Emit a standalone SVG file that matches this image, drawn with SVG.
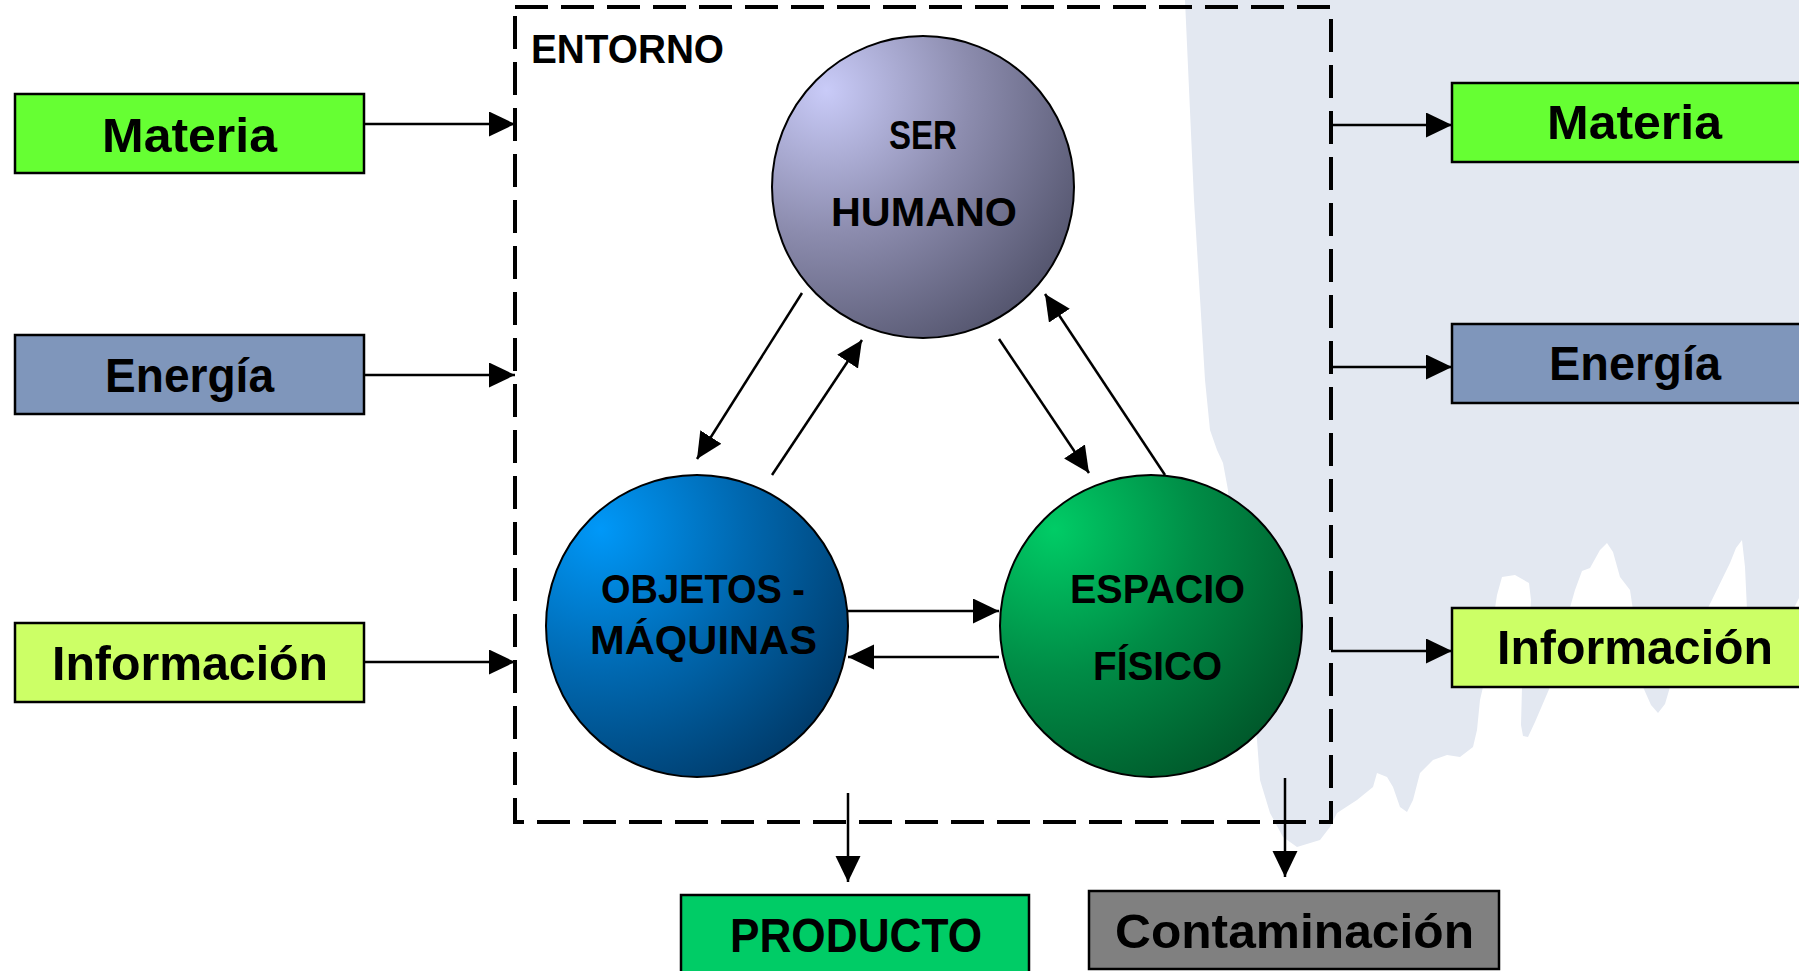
<svg xmlns="http://www.w3.org/2000/svg" width="1799" height="971" viewBox="0 0 1799 971">
<style>
.box{stroke:#000;stroke-width:2.5}
.lbl{font-family:"Liberation Sans",Arial,sans-serif;font-weight:bold;font-size:48px;fill:#000;text-anchor:middle}
.clbl{font-family:"Liberation Sans",Arial,sans-serif;font-weight:bold;font-size:41px;fill:#000;text-anchor:middle}
.circ{stroke:#000;stroke-width:2}
.conn{stroke:#000;stroke-width:2.5;fill:none;marker-end:url(#ah)}
</style>
<defs>
<marker id="ah" markerUnits="userSpaceOnUse" markerWidth="27" markerHeight="26" refX="26" refY="12.5" orient="auto">
<path d="M0,0 L26,12.5 L0,25 Z" fill="#000"/>
</marker>
<radialGradient id="gSer" cx="0.18" cy="0.18" r="0.95">
<stop offset="0" stop-color="#C9CBF8"/>
<stop offset="0.5" stop-color="#8C8CAE"/>
<stop offset="1" stop-color="#55566F"/>
</radialGradient>
<radialGradient id="gObj" cx="0.18" cy="0.18" r="0.95">
<stop offset="0" stop-color="#0098F8"/>
<stop offset="0.5" stop-color="#0068B0"/>
<stop offset="1" stop-color="#003C6C"/>
</radialGradient>
<radialGradient id="gEsp" cx="0.18" cy="0.18" r="0.95">
<stop offset="0" stop-color="#00CC66"/>
<stop offset="0.5" stop-color="#008C46"/>
<stop offset="1" stop-color="#00592B"/>
</radialGradient>
</defs>
<rect x="0" y="0" width="1799" height="971" fill="#FFFFFF"/>
<path id="backdrop" fill="#E3E8F1" d="M1185,0 L1799,0 L1799,598 L1792,612 L1750,640 L1747,610 L1745,567 L1742,540 L1736,548 L1730,563 L1707,610 L1687,650 L1670,687 L1665,704 L1658,713 L1651,705 L1643,687 L1633,610 L1630,590 L1620,577 L1613,552 L1607,543 L1600,550 L1590,568 L1582,571 L1575,590 L1555,660 L1550,687 L1535,722 L1528,737 L1523,736 L1521,725 L1522,687 L1528,650 L1531,600 L1529,583 L1515,575 L1502,577 L1497,595 L1483,687 L1480,700 L1477,730 L1473,747 L1460,757 L1447,755 L1433,760 L1420,773 L1413,800 L1407,812 L1400,807 L1393,787 L1387,777 L1377,773 L1373,787 L1357,800 L1337,813 L1330,827 L1320,840 L1297,847 L1283,837 L1270,813 L1260,780 L1257,740 L1245,650 L1232,560 L1228,490 L1223,463 L1217,450 L1210,430 L1205,380 L1194,200 Z"/>
<g id="entorno">
<rect x="515" y="7" width="816" height="815" fill="none" stroke="#000" stroke-width="4" stroke-dasharray="33 13"/>
<text x="531" y="63" class="clbl" style="text-anchor:start" textLength="193" lengthAdjust="spacingAndGlyphs">ENTORNO</text>
</g>
<g id="ser-humano">
<circle cx="923" cy="187" r="151" fill="url(#gSer)" class="circ"/>
<text x="923" y="149" class="clbl" textLength="68" lengthAdjust="spacingAndGlyphs">SER</text>
<text x="924" y="226" class="clbl" textLength="186" lengthAdjust="spacingAndGlyphs">HUMANO</text>
</g>
<g id="objetos-maquinas">
<circle cx="697" cy="626" r="151" fill="url(#gObj)" class="circ"/>
<text x="703" y="603" class="clbl" textLength="204" lengthAdjust="spacingAndGlyphs">OBJETOS -</text>
<text x="703.5" y="654" class="clbl" textLength="227" lengthAdjust="spacingAndGlyphs">MÁQUINAS</text>
</g>
<g id="espacio-fisico">
<circle cx="1151" cy="626" r="151" fill="url(#gEsp)" class="circ"/>
<text x="1157.5" y="603" class="clbl" textLength="175" lengthAdjust="spacingAndGlyphs">ESPACIO</text>
<text x="1157.5" y="680" class="clbl" textLength="129" lengthAdjust="spacingAndGlyphs">FÍSICO</text>
</g>
<g id="in-materia">
<rect x="15" y="94" width="349" height="79" fill="#66FF33" class="box"/>
<text x="189.5" y="152" class="lbl" textLength="175" lengthAdjust="spacingAndGlyphs">Materia</text>
</g>
<g id="in-energia">
<rect x="15" y="335" width="349" height="79" fill="#7F96BB" class="box"/>
<text x="189.5" y="392" class="lbl" textLength="169" lengthAdjust="spacingAndGlyphs">Energía</text>
</g>
<g id="in-informacion">
<rect x="15" y="623" width="349" height="79" fill="#CCFF66" class="box"/>
<text x="190" y="680" class="lbl" textLength="276" lengthAdjust="spacingAndGlyphs">Información</text>
</g>
<g id="out-materia">
<rect x="1452" y="83" width="360" height="79" fill="#66FF33" class="box"/>
<text x="1634.5" y="139" class="lbl" textLength="175" lengthAdjust="spacingAndGlyphs">Materia</text>
</g>
<g id="out-energia">
<rect x="1452" y="324" width="360" height="79" fill="#7F96BB" class="box"/>
<text x="1635" y="380" class="lbl" textLength="172" lengthAdjust="spacingAndGlyphs">Energía</text>
</g>
<g id="out-informacion">
<rect x="1452" y="608" width="360" height="79" fill="#CCFF66" class="box"/>
<text x="1635" y="664" class="lbl" textLength="276" lengthAdjust="spacingAndGlyphs">Información</text>
</g>
<g id="producto">
<rect x="681" y="895" width="348" height="90" fill="#00CC66" class="box"/>
<text x="856" y="952" class="lbl" textLength="252" lengthAdjust="spacingAndGlyphs">PRODUCTO</text>
</g>
<g id="contaminacion">
<rect x="1089" y="891" width="410" height="78" fill="#808080" class="box"/>
<text x="1294.5" y="948" class="lbl" textLength="359" lengthAdjust="spacingAndGlyphs">Contaminación</text>
</g>
<g id="connectors">
<line x1="364" y1="124" x2="515" y2="124" class="conn"/>
<line x1="364" y1="375" x2="515" y2="375" class="conn"/>
<line x1="364" y1="662" x2="515" y2="662" class="conn"/>
<line x1="1331" y1="125" x2="1452" y2="125" class="conn"/>
<line x1="1331" y1="367" x2="1452" y2="367" class="conn"/>
<line x1="1331" y1="651" x2="1452" y2="651" class="conn"/>
<line x1="802" y1="293" x2="697" y2="459" class="conn"/>
<line x1="772" y1="475" x2="862" y2="340" class="conn"/>
<line x1="999" y1="339" x2="1089" y2="473" class="conn"/>
<line x1="1165" y1="475" x2="1045" y2="294" class="conn"/>
<line x1="848" y1="611" x2="999" y2="611" class="conn"/>
<line x1="999" y1="657" x2="848" y2="657" class="conn"/>
<line x1="848" y1="793" x2="848" y2="882" class="conn"/>
<line x1="1285" y1="778" x2="1285" y2="877" class="conn"/>
</g>
</svg>
